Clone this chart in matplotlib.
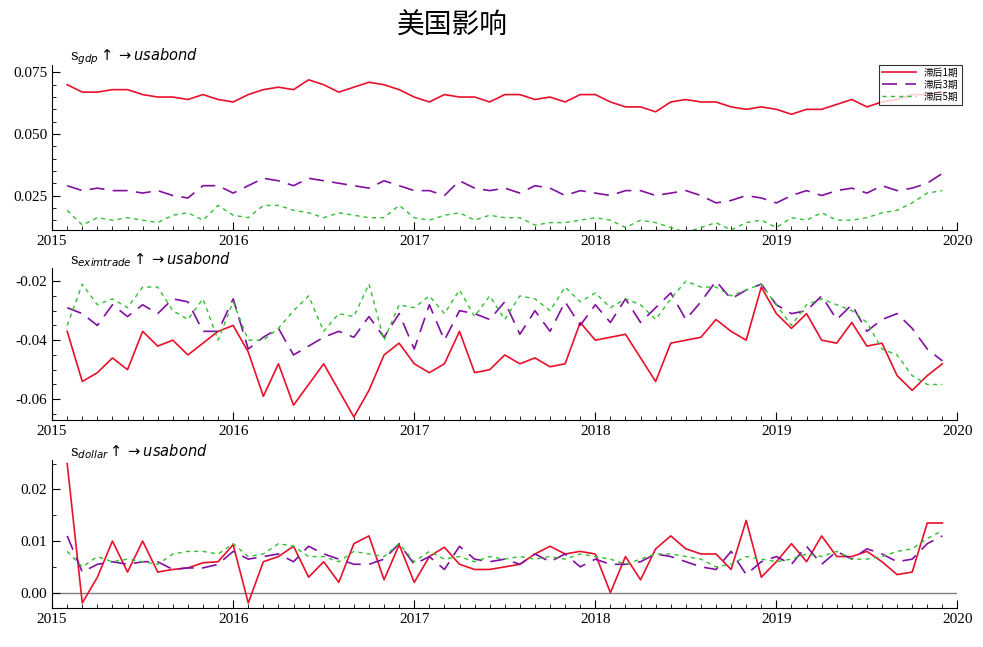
import numpy as np
import matplotlib
matplotlib.use("Agg")
import matplotlib.pyplot as plt
import pandas as pd

plt.rcParams['font.family'] = ['Liberation Serif', 'Noto Sans CJK SC', 'DejaVu Sans']

months = pd.date_range('2015-02-01', periods=59, freq='MS')
x = months.year + (months.month - 1) / 12.0

gdp_lag1 = [0.070, 0.067, 0.067, 0.068, 0.068, 0.066, 0.065, 0.065, 0.064, 0.066, 0.064,
            0.063, 0.066, 0.068, 0.069, 0.068, 0.072, 0.070, 0.067, 0.069, 0.071, 0.070, 0.068,
            0.065, 0.063, 0.066, 0.065, 0.065, 0.063, 0.066, 0.066, 0.064, 0.065, 0.063, 0.066,
            0.066, 0.063, 0.061, 0.061, 0.059, 0.063, 0.064, 0.063, 0.063, 0.061, 0.060, 0.061,
            0.060, 0.058, 0.060, 0.060, 0.062, 0.064, 0.061, 0.063, 0.064, 0.066, 0.066, 0.067]
gdp_lag3 = [0.029, 0.027, 0.028, 0.027, 0.027, 0.026, 0.027, 0.025, 0.024, 0.029, 0.029,
            0.026, 0.029, 0.032, 0.031, 0.029, 0.032, 0.031, 0.030, 0.029, 0.028, 0.031, 0.029,
            0.027, 0.027, 0.025, 0.031, 0.028, 0.027, 0.028, 0.026, 0.029, 0.028, 0.025, 0.027,
            0.026, 0.025, 0.027, 0.027, 0.025, 0.026, 0.027, 0.025, 0.022, 0.023, 0.025, 0.024,
            0.022, 0.025, 0.027, 0.025, 0.027, 0.028, 0.026, 0.029, 0.027, 0.028, 0.030, 0.034]
gdp_lag5 = [0.019, 0.013, 0.016, 0.015, 0.016, 0.015, 0.014, 0.017, 0.018, 0.015, 0.021,
            0.017, 0.016, 0.021, 0.021, 0.019, 0.018, 0.016, 0.018, 0.017, 0.016, 0.016, 0.021,
            0.016, 0.015, 0.017, 0.018, 0.015, 0.017, 0.016, 0.016, 0.013, 0.014, 0.014, 0.015,
            0.016, 0.015, 0.012, 0.015, 0.014, 0.012, 0.010, 0.012, 0.014, 0.011, 0.014, 0.015,
            0.012, 0.016, 0.015, 0.018, 0.015, 0.015, 0.016, 0.018, 0.019, 0.022, 0.026, 0.027]

trade_lag1 = [-0.037, -0.054, -0.051, -0.046, -0.050, -0.037, -0.042, -0.040, -0.045, -0.041, -0.037,
              -0.035, -0.044, -0.059, -0.048, -0.062, -0.055, -0.048, -0.057, -0.066, -0.057, -0.045, -0.041,
              -0.048, -0.051, -0.048, -0.037, -0.051, -0.050, -0.045, -0.048, -0.046, -0.049, -0.048, -0.034,
              -0.040, -0.039, -0.038, -0.046, -0.054, -0.041, -0.040, -0.039, -0.033, -0.037, -0.040, -0.022,
              -0.031, -0.036, -0.031, -0.040, -0.041, -0.034, -0.042, -0.041, -0.052, -0.057, -0.052, -0.048]
trade_lag3 = [-0.029, -0.031, -0.035, -0.028, -0.032, -0.028, -0.031, -0.026, -0.027, -0.037, -0.037,
              -0.026, -0.043, -0.039, -0.036, -0.045, -0.042, -0.039, -0.037, -0.039, -0.032, -0.039, -0.031,
              -0.043, -0.028, -0.040, -0.030, -0.031, -0.033, -0.027, -0.038, -0.030, -0.037, -0.027, -0.035,
              -0.028, -0.034, -0.026, -0.034, -0.029, -0.024, -0.033, -0.027, -0.020, -0.026, -0.023, -0.021,
              -0.028, -0.031, -0.030, -0.025, -0.033, -0.028, -0.037, -0.033, -0.031, -0.036, -0.043, -0.047]
trade_lag5 = [-0.035, -0.021, -0.028, -0.026, -0.029, -0.022, -0.022, -0.030, -0.033, -0.026, -0.040,
              -0.027, -0.040, -0.040, -0.036, -0.030, -0.025, -0.037, -0.031, -0.032, -0.021, -0.040, -0.028,
              -0.029, -0.025, -0.031, -0.023, -0.032, -0.025, -0.033, -0.025, -0.026, -0.030, -0.022, -0.027,
              -0.024, -0.029, -0.026, -0.028, -0.033, -0.026, -0.020, -0.022, -0.022, -0.025, -0.023, -0.021,
              -0.028, -0.035, -0.028, -0.026, -0.028, -0.030, -0.034, -0.043, -0.045, -0.052, -0.055, -0.055]

dollar_lag1 = [0.025, -0.002, 0.003, 0.010, 0.004, 0.010, 0.004, 0.0045, 0.0048, 0.0058, 0.006,
               0.0093, -0.002, 0.006, 0.007, 0.009, 0.003, 0.006, 0.002, 0.0095, 0.011, 0.0025, 0.0093,
               0.002, 0.007, 0.0088, 0.0055, 0.0045, 0.0045, 0.005, 0.0055, 0.0075, 0.009, 0.0075, 0.008,
               0.0075, 0.000, 0.007, 0.0025, 0.0085, 0.011, 0.0085, 0.0075, 0.0075, 0.0045, 0.014, 0.003,
               0.006, 0.0095, 0.006, 0.011, 0.007, 0.007, 0.008, 0.006, 0.0035, 0.004, 0.0135, 0.0135]
dollar_lag3 = [0.011, 0.004, 0.0055, 0.006, 0.0055, 0.006, 0.006, 0.0045, 0.0048, 0.0048, 0.0055,
               0.008, 0.0065, 0.007, 0.0075, 0.006, 0.009, 0.0075, 0.0065, 0.0055, 0.0055, 0.0065, 0.0095,
               0.0055, 0.007, 0.0045, 0.009, 0.0065, 0.006, 0.0065, 0.0055, 0.0075, 0.006, 0.0075, 0.005,
               0.0065, 0.0055, 0.0055, 0.006, 0.0075, 0.007, 0.006, 0.005, 0.0045, 0.008, 0.0035, 0.006,
               0.007, 0.0055, 0.009, 0.0055, 0.008, 0.0065, 0.0085, 0.0075, 0.006, 0.0065, 0.0095, 0.011]
dollar_lag5 = [0.008, 0.005, 0.007, 0.006, 0.0065, 0.006, 0.0055, 0.0075, 0.008, 0.008, 0.0075,
               0.0095, 0.007, 0.0075, 0.0095, 0.009, 0.007, 0.007, 0.006, 0.008, 0.0075, 0.007, 0.0095,
               0.006, 0.008, 0.0065, 0.007, 0.006, 0.007, 0.0065, 0.007, 0.0065, 0.007, 0.0065, 0.0075,
               0.007, 0.0065, 0.0055, 0.0065, 0.0075, 0.0075, 0.007, 0.0065, 0.005, 0.0055, 0.007, 0.0065,
               0.006, 0.0065, 0.0075, 0.007, 0.008, 0.0065, 0.0065, 0.007, 0.008, 0.0085, 0.0105, 0.012]

labels = ['滞后1期', '滞后3期', '滞后5期']
panel_titles = [r'$\mathregular{s}_{gdp}\uparrow\rightarrow \mathit{usabond}$',
                r'$\mathregular{s}_{eximtrade}\uparrow\rightarrow \mathit{usabond}$',
                r'$\mathregular{s}_{dollar}\uparrow\rightarrow \mathit{usabond}$']
yticks = [[0.025, 0.050, 0.075], [-0.06, -0.04, -0.02], [0.00, 0.01, 0.02]]
yfmt = ['{:.3f}', '{:.2f}', '{:.2f}']
ylims = [(0.011, 0.078), (-0.067, -0.0155), (-0.003, 0.0257)]
series = [(gdp_lag1, gdp_lag3, gdp_lag5),
          (trade_lag1, trade_lag3, trade_lag5),
          (dollar_lag1, dollar_lag3, dollar_lag5)]

fig = plt.figure(figsize=(9.83, 6.47), dpi=100)
fig.text(0.46, 0.961, '美国影响', ha='center', va='center', fontsize=20,
         family=['Noto Sans CJK SC'], fontweight='light')

boxes = [(0.053, 0.6445, 0.921, 0.255), (0.053, 0.351, 0.921, 0.235), (0.053, 0.060, 0.921, 0.229)]
for k, box in enumerate(boxes):
    ax = fig.add_axes(box)
    s1, s3, s5 = series[k]
    ax.plot(x, s1, color='#e8102a', lw=1.2, label=labels[0])
    ax.plot(x, s3, color='#8010a0', lw=1.2, dashes=(9, 5), label=labels[1])
    ax.plot(x, s5, color='#30c030', lw=1.0, dashes=(3, 3), label=labels[2])
    if k == 2:
        ax.axhline(0, color='#808080', lw=1.0, zorder=0)
    ax.set_xlim(2015, 2020)
    ax.set_xticks(range(2015, 2021))
    ax.set_xticks(np.arange(2015, 2020.01, 1 / 12), minor=True)
    ax.set_yticks(yticks[k])
    ax.set_yticklabels([yfmt[k].format(v) for v in yticks[k]])
    ax.set_yticks(np.arange(-0.07, 0.08, 0.005), minor=True)
    ax.set_ylim(*ylims[k])
    ax.spines['top'].set_visible(False)
    ax.spines['right'].set_visible(False)
    ax.tick_params(direction='in', which='major', length=6, labelsize=11)
    ax.tick_params(direction='in', which='minor', length=3)
    ax.text(0.02, 0.99, panel_titles[k], transform=ax.transAxes, fontsize=10.5,
            va='bottom', ha='left', family=['DejaVu Serif'])
    if k == 0:
        leg = ax.legend(loc='upper right', fontsize=7, frameon=True, fancybox=False,
                        edgecolor='black', handlelength=3.5, borderpad=0.3,
                        labelspacing=0.2, bbox_to_anchor=(1.01, 1.03),
                        prop={'family': ['Noto Sans CJK SC'], 'size': 7})
        leg.get_frame().set_linewidth(0.8)

fig.savefig('out.png', dpi=100)
